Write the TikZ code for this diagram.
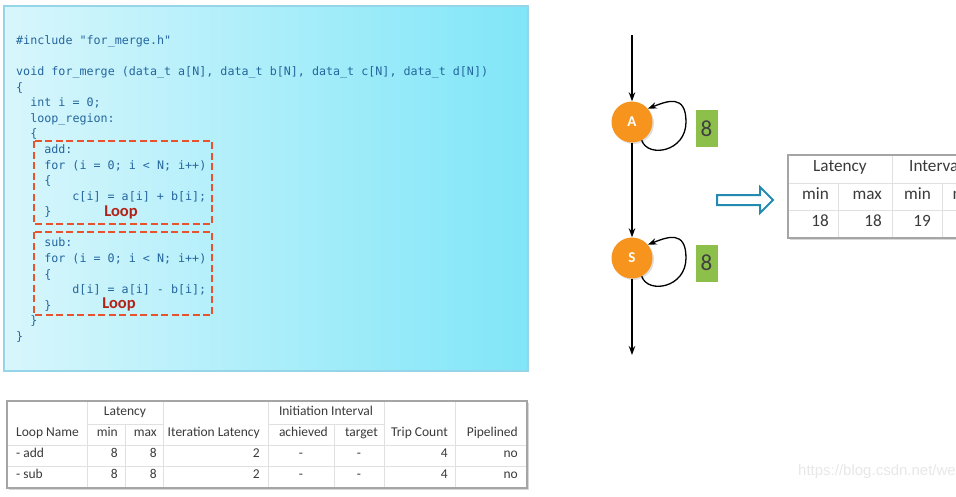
\documentclass[tikz,border=0pt]{standalone}
\usepackage{fontspec}
\setmainfont{Carlito}
\setsansfont{Carlito}
\setmonofont{DejaVu Sans Mono}
\newfontfamily\markfont{Liberation Sans}
\usetikzlibrary{arrows.meta, positioning, shadows, calc}

\definecolor{codeL}{RGB}{216,246,252}
\definecolor{codeR}{RGB}{128,230,248}
\definecolor{codeEdge}{RGB}{150,212,232}
\definecolor{codeInk}{RGB}{36,102,158}
\definecolor{loopRed}{RGB}{232,82,44}
\definecolor{loopInk}{RGB}{178,34,24}
\definecolor{stateOrange}{RGB}{247,148,30}
\definecolor{countGreen}{RGB}{141,192,74}
\definecolor{ruleGray}{RGB}{224,224,224}
\definecolor{frameGray}{RGB}{165,165,165}
\definecolor{tabInk}{RGB}{58,58,58}
\definecolor{hollowBlue}{RGB}{36,138,178}

\begin{document}
\begin{tikzpicture}[x=1pt, y=-1pt,
  codeline/.style={anchor=mid west, inner sep=0pt, text=codeInk, font=\ttfamily\fontsize{11.7}{13}\selectfont},
  loopbox/.style={draw=loopRed, line width=2.2pt, dash pattern=on 7pt off 3.5pt},
  looptag/.style={inner sep=0pt, text=loopInk, font=\bfseries\fontsize{16.5}{18}\selectfont},
  state/.style={circle, fill=stateOrange, minimum size=41pt, inner sep=0pt, text=white,
    font=\bfseries\fontsize{15}{15}\selectfont, drop shadow={opacity=0.25, shadow xshift=1.5pt, shadow yshift=-1.5pt}},
  flow/.style={-{Stealth[length=9pt, width=6.5pt]}, line width=1.3pt},
  count/.style={fill=countGreen, minimum width=22pt, minimum height=37pt, inner sep=0pt,
    text=black!75, font=\fontsize{23}{23}\selectfont},
  frame/.style={draw=frameGray, line width=1.8pt, fill=white, drop shadow={opacity=0.3, shadow xshift=1.5pt, shadow yshift=-1.5pt}},
  tabrule/.style={draw=ruleGray, line width=0.8pt},
  cellL/.style={anchor=mid west, inner sep=0pt, text=tabInk, font=\fontsize{13.5}{14}\selectfont},
  cellR/.style={cellL, anchor=mid east},
  cellC/.style={cellL, anchor=mid},
  bigR/.style={cellR, font=\fontsize{17.2}{18}\selectfont},
  bigC/.style={cellC, font=\fontsize{17.2}{18}\selectfont},
  hollow/.style={draw=hollowBlue, line width=2pt, fill=white, line join=miter}
]
  \path[use as bounding box, clip] (0,0) rectangle (956,496);
  \fill[white] (0,0) rectangle (956,496);

  % source code panel
  \shade[left color=codeL, right color=codeR] (4,6) rectangle (528,371);
  \draw[codeEdge, line width=1.2pt] (4,6) rectangle (528,371);
  \foreach \k/\ind/\txt in {
    1/0/{\#include "for\_merge.h"},
    3/0/{void for\_merge (data\_t a[N], data\_t b[N], data\_t c[N], data\_t d[N])},
    4/0/{\{},
    5/2/{int i = 0;},
    6/2/{loop\_region:},
    7/2/{\{},
    8/4/{add:},
    9/4/{for (i = 0; i < N; i++)},
    10/4/{\{},
    11/8/{c[i] = a[i] + b[i];},
    12/4/{\}},
    14/4/{sub:},
    15/4/{for (i = 0; i < N; i++)},
    16/4/{\{},
    17/8/{d[i] = a[i] - b[i];},
    18/4/{\}},
    19/2/{\}},
    20/0/{\}}}
    \node[codeline] (code\k) at ({16+\ind*7.03}, {42+(\k-1)*15.58}) {\txt};

  \draw[loopbox] (34,141) rectangle (212,224);
  \draw[loopbox] (34,232) rectangle (212,315);
  \node[looptag] (tagAdd) at (121,212) {Loop};
  \node[looptag] (tagSub) at (119,304) {Loop};

  % loop report
  \draw[frame] (7,401) rectangle (527,488);
  \foreach \xx in {87,163,268,384,455}
    \draw[tabrule] (\xx,402) -- (\xx,487);
  \foreach \xx in {125,334}
    \draw[tabrule] (\xx,424) -- (\xx,487);
  \draw[tabrule] (87,424) -- (163,424);
  \draw[tabrule] (268,424) -- (384,424);
  \foreach \yy in {445,466}
    \draw[tabrule] (8,\yy) -- (526,\yy);

  \node[cellC] (hLat) at (125,413) {Latency};
  \node[cellC] (hInit) at (326,413) {Initiation Interval};
  \node[cellL] (hName) at (16,434) {Loop Name};
  \node[cellR] (hMin) at (118,434) {min};
  \node[cellR] (hMax) at (157,434) {max};
  \node[cellR] (hIter) at (260,434) {Iteration Latency};
  \node[cellR] (hAch) at (328,434) {achieved};
  \node[cellR] (hTgt) at (378,434) {target};
  \node[cellR] (hTrip) at (448,434) {Trip Count};
  \node[cellR] (hPipe) at (518,434) {Pipelined};
  \foreach \r/\yy in {add/455,sub/476} {
    \node[cellL] (n\r) at (16,\yy) {- \r};
    \node[cellR] (mn\r) at (118,\yy) {8};
    \node[cellR] (mx\r) at (157,\yy) {8};
    \node[cellR] (it\r) at (260,\yy) {2};
    \node[cellC] (ac\r) at (301,\yy) {-};
    \node[cellC] (tg\r) at (359,\yy) {-};
    \node[cellR] (tc\r) at (448,\yy) {4};
    \node[cellR] (pp\r) at (518,\yy) {no};
  }

  % merged loop graph
  \coordinate (entry) at (632,35);
  \coordinate (exit) at (632,355);
  \node[state] (A) at (632,122) {A};
  \node[state] (S) at (632,258) {S};
  \draw[flow] (entry) -- (A);
  \draw[flow] (A) -- (S);
  \draw[flow] (S) -- (exit);
  \foreach \s in {A,S}
    \draw[flow] (\s.-62) .. controls +(6,18) and +(0,30) .. ($(\s)+(54,0)$)
      .. controls +(0,-28) and +(20,-8) .. (\s.40);
  \node[count] (cntA) at (706.5,128.5) {8};
  \node[count] (cntS) at (706.5,263) {8};

  \draw[hollow] (717,195) -- (760,195) -- (760,187) -- (773,200) -- (760,213) -- (760,205) -- (717,205) -- cycle;

  % merged report
  \draw[frame] (788,155) rectangle (1010,238);
  \draw[tabrule] (789,183) -- (1009,183);
  \draw[tabrule] (789,210) -- (1009,210);
  \draw[tabrule] (892,156) -- (892,237);
  \foreach \xx in {838,942}
    \draw[tabrule] (\xx,183) -- (\xx,237);
  \node[bigC] (mLat) at (840,169) {Latency};
  \node[cellL, font=\fontsize{17.2}{18}\selectfont] (mInt) at (909,169) {Interval};
  \node[bigR] (mMin) at (829,197) {min};
  \node[bigR] (mMax) at (882,197) {max};
  \node[bigR] (mMin2) at (931,197) {min};
  \node[bigR] (mMax2) at (982,197) {max};
  \node[bigR] (vMin) at (829,224) {18};
  \node[bigR] (vMax) at (882,224) {18};
  \node[bigR] (vMin2) at (931,224) {19};

  \node[anchor=mid west, inner sep=0pt, text=black!9, font=\markfont\fontsize{15}{15}\selectfont] (mark) at (798,473) {https://blog.csdn.net/we};
\end{tikzpicture}
\end{document}
